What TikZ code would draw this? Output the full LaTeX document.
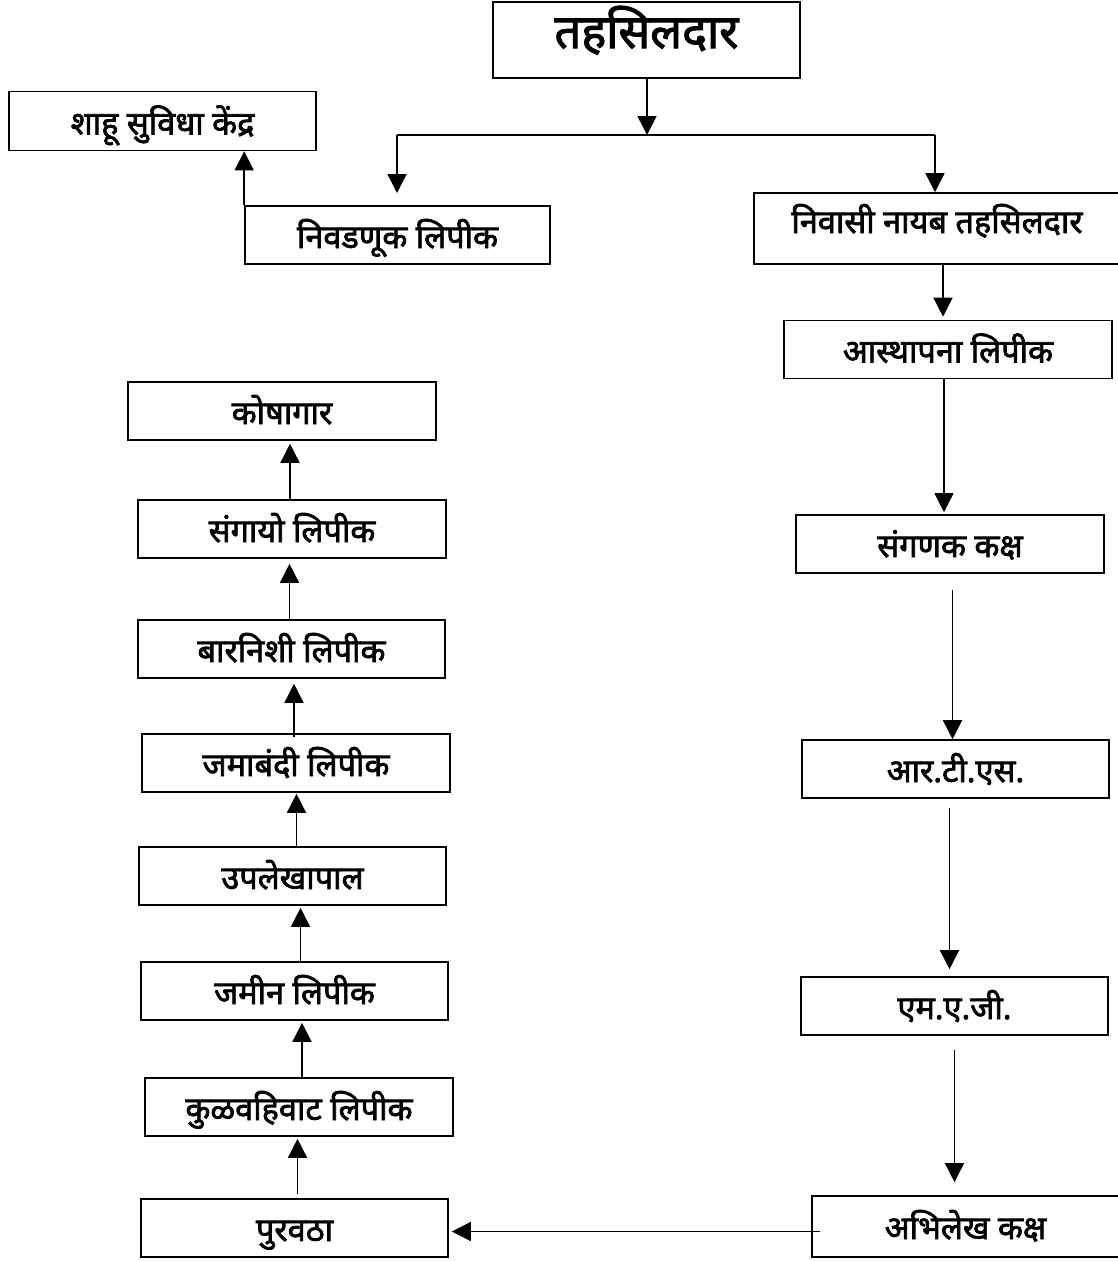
\documentclass[tikz,border=0pt]{standalone}
\usepackage{fontspec}
\usetikzlibrary{arrows.meta,calc}
\newfontfamily\devfont[Script=Devanagari, FakeBold=2.2]{Noto Sans}
\tikzset{box/.style={draw, line width=1.6pt, inner xsep=0pt, inner ysep=0pt, minimum width=307pt,
    text height=42pt, text depth=16pt, font=\devfont\fontsize{32.5}{37}\selectfont}}
\tikzset{arr/.style={line width=1.5pt, -{Triangle[width=19pt, length=19pt]}}}
\tikzset{ln/.style={line width=1.5pt}}

\begin{document}
\begin{tikzpicture}[x=1pt, y=-1pt]
        \useasboundingbox (0,0) rectangle (1118,1261);

        \node[box, text height=46pt, text depth=30pt, font=\devfont\fontsize{47}{52}\selectfont] (tahsil) at (646.5, 40) {तहसिलदार};
        \node[box, text height=43pt] (shahu) at (162.5, 121) {शाहू सुविधा केंद्र};
        \node[box, minimum width=305pt] (nivadnuk) at (397.5, 235) {निवडणूक लिपीक};
        \node[box, minimum width=366pt, text height=40pt, text depth=31pt] (nivasi) at (937, 228.5) {निवासी नायब तहसिलदार};
        \node[box, minimum width=328pt] (asthapana) at (948, 349.5) {आस्थापना लिपीक};
        \node[box, minimum width=308pt] (sanganak) at (950, 544) {संगणक कक्ष};
        \node[box] (rts) at (955.5, 769) {आर.टी.एस.};
        \node[box] (mag) at (954.5, 1006) {एम.ए.जी.};
        \node[box, text height=43pt, text depth=18pt] (abhilekh) at (965.5, 1226.5) {अभिलेख कक्ष};

        \node[box] (puravatha) at (294.5, 1228) {पुरवठा};
        \node[box, minimum width=308pt] (kulvahivat) at (299, 1107) {कुळवहिवाट लिपीक};
        \node[box] (jamin) at (294.5, 991) {जमीन लिपीक};
        \node[box] (upalekhapal) at (292.5, 876) {उपलेखापाल};
        \node[box, minimum width=308pt] (jamabandi) at (296, 763) {जमाबंदी लिपीक};
        \node[box] (barnishi) at (291.5, 649) {बारनिशी लिपीक};
        \node[box, minimum width=308pt] (sangayo) at (292, 529) {संगायो लिपीक};
        \node[box, minimum width=308pt] (koshagar) at (282, 411) {कोषागार};

        \coordinate (jn) at (647, 135);
        \coordinate (jl) at (397, 135);
        \coordinate (jr) at (935, 135);
        \coordinate (jlt) at (397, 193);

        \draw [arr] (tahsil.south -| jn) -- (jn);
        \draw [ln] (jl) -- (jr);
        \draw [arr] (jl) -- (jlt);
        \draw [arr] (jr) -- (jr |- nivasi.north);
        \draw [arr] (nivadnuk.north west) -- (nivadnuk.north west |- shahu.south);

        \draw [arr, shorten >=3pt] ($(asthapana.north |- nivasi.south)+(-5,0)$) -- ($(asthapana.north)+(-5,0)$);
        \draw [arr, shorten >=2pt] ($(asthapana.south)+(-4,0)$) -- ($(asthapana.south |- sanganak.north)+(-4,0)$);
        \draw [arr] ($(rts.north |- sanganak.south)+(-3,16)$) -- ($(rts.north)+(-3,0)$);
        \draw [arr, shorten >=7pt] ($(mag.north |- rts.south)+(-5,9)$) -- ($(mag.north)+(-5,0)$);
        \draw [arr, shorten >=13pt] ($(abhilekh.north |- mag.south)+(-11,14)$) -- ($(abhilekh.north)+(-11,0)$);
        \draw [arr, shorten >=3pt] ($(abhilekh.west)+(9,5)$) -- ($(abhilekh.west -| puravatha.east)+(0,5)$);

        \draw [arr, shorten >=2pt] ($(puravatha.north)+(3,-4)$) -- ($(puravatha.north |- kulvahivat.south)+(3,0)$);
        \draw [arr, shorten >=2pt] ($(kulvahivat.north)+(3,0)$) -- ($(kulvahivat.north |- jamin.south)+(3,0)$);
        \draw [arr, shorten >=2pt] ($(jamin.north)+(6,0)$) -- ($(jamin.north |- upalekhapal.south)+(6,0)$);
        \draw [arr, shorten >=1pt] ($(upalekhapal.north)+(4,0)$) -- ($(upalekhapal.north |- jamabandi.south)+(4,0)$);
        \draw [arr, shorten >=5pt] ($(jamabandi.north)+(-2,4)$) -- ($(jamabandi.north |- barnishi.south)+(-2,0)$);
        \draw [arr, shorten >=5pt] ($(barnishi.north)+(-2,0)$) -- ($(barnishi.north |- sangayo.south)+(-2,0)$);
        \draw [arr, shorten >=3pt] ($(sangayo.north)+(-2,0)$) -- ($(sangayo.north |- koshagar.south)+(-2,0)$);
\end{tikzpicture}
\end{document}
